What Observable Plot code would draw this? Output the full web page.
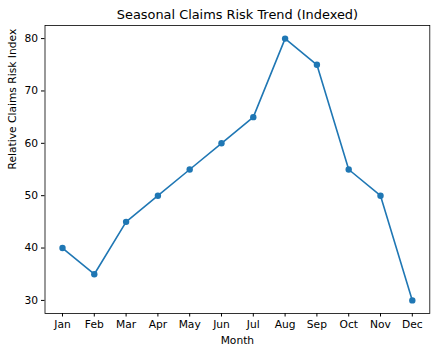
<!DOCTYPE html>
<html><head><meta charset="utf-8">
<script src="https://cdn.jsdelivr.net/npm/d3@7"></script>
<script src="https://cdn.jsdelivr.net/npm/@observablehq/plot@0.6"></script>
<style>body{margin:0;background:#fff;} svg{font-family:"DejaVu Sans",sans-serif;}</style>
</head><body><div id="chart"></div>
<script>
const months = ["Jan","Feb","Mar","Apr","May","Jun","Jul","Aug","Sep","Oct","Nov","Dec"];
const riskIndex = [40,35,45,50,55,60,65,80,75,55,50,30];
const yTicks = [30,40,50,60,70,80];
const data = months.map((m,i)=>({month:m, value:riskIndex[i]}));
const color = "#1f77b4";
const chart = Plot.plot({
  width: 437, height: 354,
  marginTop: 25, marginBottom: 41, marginLeft: 44.5, marginRight: 7.7,
  style: {fontFamily: "DejaVu Sans, sans-serif", fontSize: "10.7px", color: "#000", background: "#fff"},
  x: {type: "point", domain: months, padding: 0.55, round: false, label: null},
  y: {domain: [27.5, 82.5], label: null},
  marks: [
    Plot.frame({stroke: "#000", strokeWidth: 0.8}),
    Plot.axisX({ticks: months, tickSize: 3.5, tickPadding: 3.5, fontSize: 10.7, label: null}),
    Plot.axisY({ticks: yTicks, tickSize: 3.5, tickPadding: 3.5, fontSize: 10.7, label: null}),
    Plot.line(data, {x: "month", y: "value", stroke: color, strokeWidth: 1.6}),
    Plot.dot(data, {x: "month", y: "value", fill: color, r: 3.2}),
    Plot.text(["Seasonal Claims Risk Trend (Indexed)"], {frameAnchor: "top", lineAnchor: "middle", dy: -11, fontSize: 12.9, fill: "#000"}),
    Plot.text(["Month"], {frameAnchor: "bottom", lineAnchor: "middle", dy: 27, fontSize: 10.7, fill: "#000"}),
    Plot.text(["Relative Claims Risk Index"], {frameAnchor: "left", dx: -32.5, rotate: -90, fontSize: 10.7, fill: "#000"})
  ]
});
document.getElementById("chart").appendChild(chart);
</script></body></html>
